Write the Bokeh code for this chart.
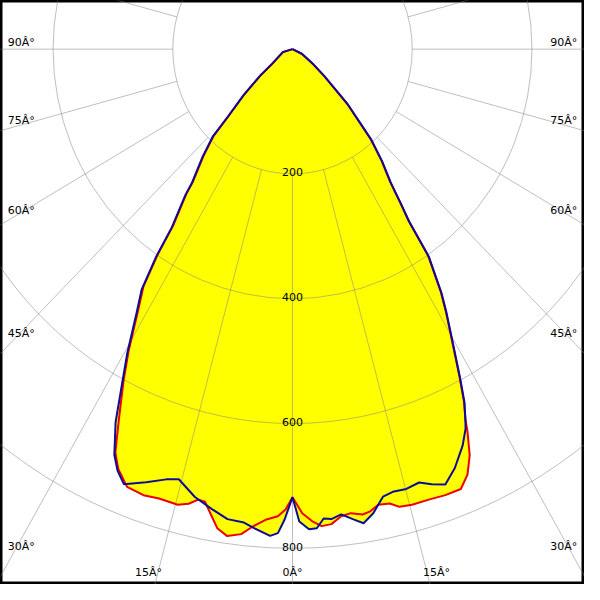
import numpy as np
from bokeh.plotting import figure
from bokeh.core.properties import value
from bokeh.embed import file_html
from bokeh.resources import INLINE

# ---- data (gamma in degrees, negative = left half; intensity in cd) ----
red_gamma = [-90, -73.9, -55.5, -51.9, -48.0, -44.9, -43.5, -41.1, -38.1, -37.4, -35.2, -34.4,
             -33.2, -31.7, -29.5, -28.0, -26.0, -24.6, -23.4,
             -21.5, -19.2, -17.2, -14.7, -13.4, -12.3, -11.4, -10.2, -9.3, -7.95,
             -6.3, -4.86, -3.3, -1.87, -0.9, 0,
             1.25, 2.46, 3.65, 4.88, 6.2, 7.47, 8.92, 9.95, 11.1, 12.58, 13.7, 15.3, 17.5, 19.66,
             21.75, 23.2, 24.46, 25.5, 25.9, 26.9, 28.0, 30.1, 31.4, 32.5, 34.4, 35.2, 36.1, 37.5,
             39.8, 42.2, 43.8, 46.2, 50.9, 55.5, 64.4, 90]
red_cd = [0, 16, 40, 67, 108, 152, 191, 225, 269, 292, 346, 398,
          455, 490, 556, 601, 662, 711, 733,
          754, 757, 754, 755, 749, 739, 740, 761, 778, 788,
          782, 767, 755, 749, 738, 718,
          744, 757, 766, 764, 753, 750, 755, 752, 744, 746, 755, 757, 757, 759,
          759, 742, 715, 679, 662, 633, 594, 526, 491, 461, 401, 336, 307, 268,
          232, 194, 160, 127, 68, 40, 17, 0]

blue_gamma = [-90, -73.9, -55.5, -51.9, -48.0, -44.9, -43.5, -41.1, -38.1, -37.4, -35.2, -34.4,
              -33.2, -31.7, -29.5, -28.0, -26.3, -24.6, -23.4,
              -22.0, -19.4, -17.0, -15.4, -12.8, -10.4, -8.2, -6.1, -4.84, -2.75,
              -1.8, -1.0, 0,
              0.86, 2.06, 3.03, 3.96, 4.93, 6.22, 7.62, 8.88, 10.28, 11.9, 13.28, 15.1, 16.94,
              18.44, 20.1, 22.0, 24.1, 25.4, 25.8, 26.9, 28.0, 30.1, 31.4, 32.5, 34.4, 35.2, 36.1,
              37.5, 39.8, 42.2, 43.8, 46.2, 50.9, 55.5, 64.4, 90]
blue_cd = [0, 17, 41, 68, 110, 154, 194, 228, 272, 295, 350, 403,
           460, 495, 561, 606, 667, 715, 736,
           752, 736, 721, 715, 736, 749, 761, 763, 770, 781,
           776, 754, 718,
           757, 770, 769, 754, 756, 750, 760, 769, 756, 733, 729, 730, 726,
           735, 743, 724, 696, 674, 664, 635, 596, 528, 493, 463, 403, 338, 309,
           270, 234, 196, 162, 128, 69, 41, 18, 0]

ring_values = [200, 400, 600, 800]
ring_labels = ["200", "400", "600", "800"]
angle_ticks = [0, 15, 30, 45, 60, 75, 90]
angle_labels = ["0\u00c2\u00b0", "15\u00c2\u00b0", "30\u00c2\u00b0", "45\u00c2\u00b0",
                "60\u00c2\u00b0", "75\u00c2\u00b0", "90\u00c2\u00b0"]

# ---- geometry ----
X_MAX = 487.8
Y_TOP = 78.0
Y_BOT = -858.0
FONT = value("DejaVu Sans")


def to_xy(gamma, cd):
    t = np.radians(np.asarray(gamma, dtype=float))
    r = np.asarray(cd, dtype=float)
    return r * np.sin(t), -r * np.cos(t)


p = figure(width=584, height=584, x_range=(-X_MAX, X_MAX), y_range=(Y_BOT, Y_TOP),
           output_backend="svg", toolbar_location=None,
           x_axis_location=None, y_axis_location=None, min_border=0,
           background_fill_color="white", border_fill_color="white")
p.grid.visible = False
p.outline_line_color = "black"
p.outline_line_width = 4

rx, ry = to_xy(red_gamma, red_cd)
bx, by = to_xy(blue_gamma, blue_cd)

# yellow area (union of both planes)
p.patch(rx, ry, fill_color="#ffff00", line_color=None)
p.patch(bx, by, fill_color="#ffff00", line_color=None)

# polar grid
grid_col = "#808080"
p.ellipse(x=[0] * len(ring_values), y=[0] * len(ring_values),
          width=[2 * r for r in ring_values], height=[2 * r for r in ring_values],
          fill_color=None, line_color=grid_col, line_alpha=0.5, line_width=1)
spokes = np.radians(np.arange(0, 360, 15))
r0, r1 = ring_values[0], 1500
p.segment(x0=r0 * np.sin(spokes), y0=-r0 * np.cos(spokes),
          x1=r1 * np.sin(spokes), y1=-r1 * np.cos(spokes),
          line_color=grid_col, line_alpha=0.5, line_width=1)

# curves
p.line(rx, ry, line_color="#ee0000", line_width=2)
p.line(bx, by, line_color="#0c0c96", line_width=2)

# ring labels
p.text(x=[0] * len(ring_values), y=[-r + 2.5 for r in ring_values], text=ring_labels,
       text_font=FONT, text_font_size="11px", text_color="black",
       text_align="center", text_baseline="alphabetic")

# angle labels
lab_x, lab_y, lab_t = [], [], []
x_side = 453.0      # label centre on the sides
x_ray = 466.6       # where the spoke is sampled for side labels
y_ray = 898.0       # where the spoke is sampled for bottom labels
y_lab = -839.0      # bottom label centre
for a, t in zip(angle_ticks, angle_labels):
    ar = np.radians(a)
    if a == 0:
        pts = [(0.0, y_lab)]
    elif a <= 15:
        xx = y_ray * np.tan(ar)
        pts = [(-xx, y_lab), (xx, y_lab)]
    else:
        yy = x_ray / np.tan(ar) - 11
        pts = [(-x_side, -yy), (x_side, -yy)]
    for (xx, yy) in pts:
        lab_x.append(xx)
        lab_y.append(yy)
        lab_t.append(t)
p.text(x=lab_x, y=lab_y, text=lab_t, text_font=FONT, text_font_size="11px",
       text_color="black", text_align="center", text_baseline="middle")

open("out.html", "w").write(file_html(p, INLINE))
